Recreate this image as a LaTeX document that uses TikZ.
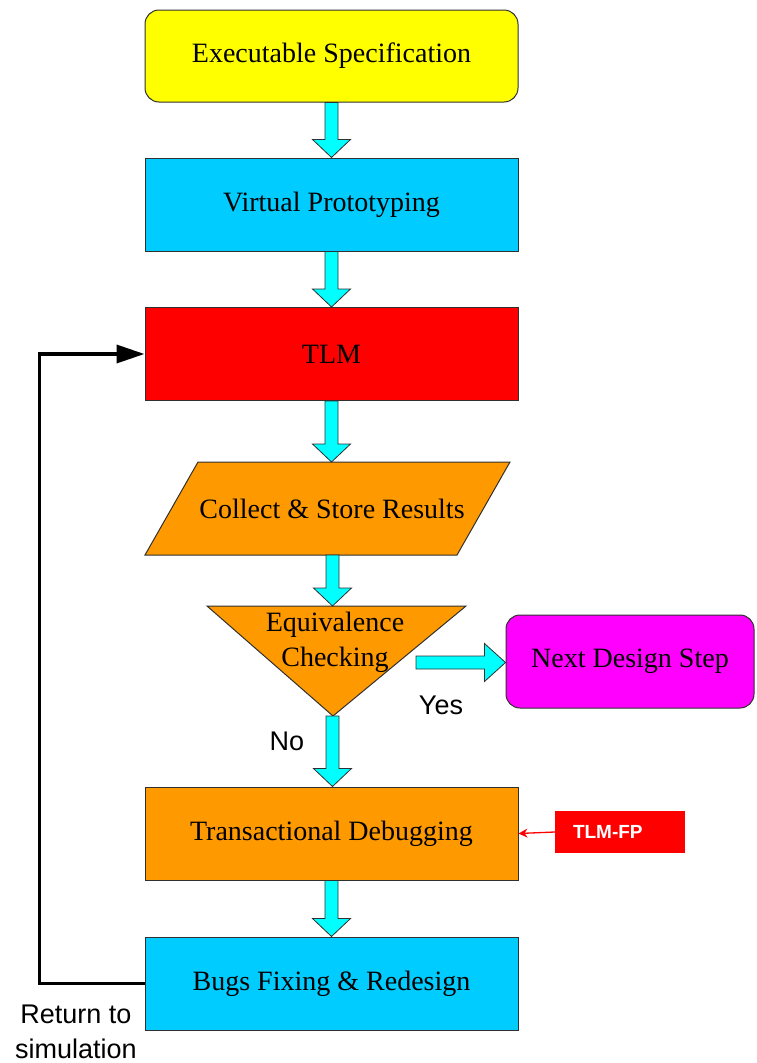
\documentclass[tikz,border=0pt]{standalone}
\usepackage{fontspec}
\setmainfont{Liberation Serif}
\setsansfont{Liberation Sans}
\usetikzlibrary{arrows.meta,calc}

\definecolor{specyellow}{HTML}{FFFF00}
\definecolor{protoblue}{HTML}{00CCFF}
\definecolor{tlmred}{HTML}{FF0000}
\definecolor{stageorange}{HTML}{FF9900}
\definecolor{nextmagenta}{HTML}{FF00FF}
\definecolor{flowcyan}{HTML}{00FFFF}
\definecolor{edgegray}{HTML}{303030}

% wide cyan block arrow pointing down, from the first point to the second
\newcommand\fatdown[2]{%
  \draw[fatarrow] let \p1=(#1), \p2=(#2) in
    (\x1-6.5pt,\y1) -- (\x1-6.5pt,\y2+18pt) -- (\x1-19pt,\y2+18pt) -- (\x1,\y2)
    -- (\x1+19pt,\y2+18pt) -- (\x1+6.5pt,\y2+18pt) -- (\x1+6.5pt,\y1) -- cycle;}
% wide cyan block arrow pointing right
\newcommand\fatright[2]{%
  \draw[fatarrow] let \p1=(#1), \p2=(#2) in
    (\x1,\y1+6.5pt) -- (\x2-21pt,\y1+6.5pt) -- (\x2-21pt,\y1+19pt) -- (\x2,\y1)
    -- (\x2-21pt,\y1-19pt) -- (\x2-21pt,\y1-6.5pt) -- (\x1,\y1-6.5pt) -- cycle;}

\begin{document}
\begin{tikzpicture}[x=1pt,y=-1pt,
  boxtext/.style={font=\fontsize{28}{35}\selectfont, align=center},
  stage/.style={boxtext, draw=edgegray, line width=1pt, minimum width=373pt,
    minimum height=93pt, inner sep=0pt},
  roundstage/.style={stage, rounded corners=14pt},
  fatarrow/.style={fill=flowcyan, draw=edgegray, line width=0.8pt, line join=miter},
  feedback/.style={line width=3.5pt, -{Triangle[length=28pt,width=18pt]}},
  sidelabel/.style={font=\sffamily\fontsize{27}{35}\selectfont, align=center, inner sep=0pt},
  tlmfp/.style={fill=tlmred, text=white, font=\sffamily\bfseries\fontsize{19}{22}\selectfont,
    minimum height=42pt, text width=94pt, inner xsep=18pt, inner ysep=0pt, align=left}
]
\useasboundingbox (0,0) rectangle (756,1063);

% main flow
\node[roundstage, fill=specyellow, minimum height=92pt] (exec) at (331.5,56) {Executable Specification};
\node[stage, fill=protoblue] (vp) at (331.5,204.5) {Virtual Prototyping};
\node[stage, fill=tlmred] (tlm) at (331.5,354) {TLM};

% parallelogram: collect & store results
\draw[fill=stageorange, draw=edgegray, line width=1pt] (145,555) -- (198,462) -- (510,462) -- (457,555) -- cycle;
\node[boxtext, inner sep=0pt] (collect) at (332,508.5) {Collect \& Store Results};
\coordinate (colltop) at (332.5,462);
\coordinate (collbot) at (332.5,555);

% decision triangle
\draw[fill=stageorange, draw=edgegray, line width=1pt] (207,606) -- (466,606) -- (333,716) -- cycle;
\node[boxtext, inner sep=0pt] (eq) at (335,642) {Equivalence\\Checking};
\coordinate (eqtop) at (332.5,606);
\coordinate (eqapex) at (332.5,716);
\coordinate (eqyes) at (416,662.5);

\node[roundstage, fill=nextmagenta, minimum width=248pt] (next) at (630,661.5) {Next Design Step};

\node[stage, fill=stageorange] (trans) at (331.5,833.5) {Transactional Debugging};
\node[stage, fill=protoblue] (bugs) at (331.5,983.5) {Bugs Fixing \& Redesign};

% block arrows
\fatdown{exec.south}{vp.north}
\fatdown{vp.south}{tlm.north}
\fatdown{tlm.south}{colltop}
\fatdown{collbot}{eqtop}
\fatdown{eqapex}{trans.north}
\fatdown{trans.south}{bugs.north}
\fatright{eqyes}{next.west}

% branch labels
\node[sidelabel] (yes) at (441,705) {Yes};
\node[sidelabel] (no) at (287,741) {No};

% loop back to TLM
\draw[feedback] (bugs.west) -- ++(-105,0) |- (tlm.west);
\node[sidelabel] (ret) at (76,1032) {Return to\\simulation};

% TLM-FP marker
\node[tlmfp] (fp) at (620,832) {TLM-FP};
\draw[tlmred, line width=1.3pt, -{Stealth[length=9pt,width=9pt]}] (fp.west) -- (trans.east);
\end{tikzpicture}
\end{document}
